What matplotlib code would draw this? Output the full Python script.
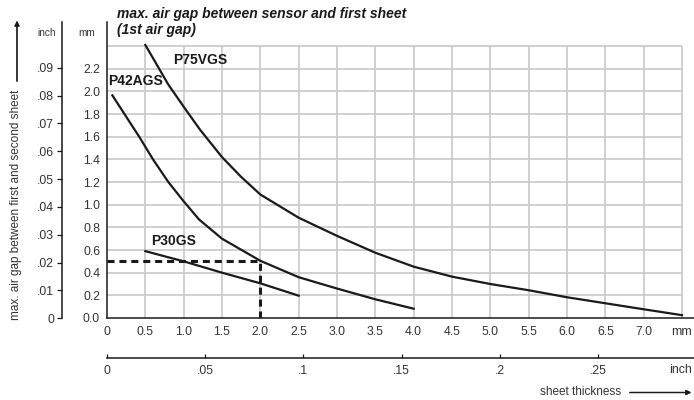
import matplotlib
matplotlib.use('Agg')
import matplotlib.pyplot as plt
from matplotlib.ticker import FixedLocator, FixedFormatter

plt.rcParams['font.family'] = ['Liberation Sans', 'DejaVu Sans']

# sheet thickness (mm) vs max. air gap between first and second sheet (mm)
p75vgs_x = [0.50, 0.80, 1.00, 1.21, 1.50, 1.75, 2.00, 2.50, 3.00, 3.50, 4.00, 4.50, 5.00, 5.50, 6.00, 6.50, 7.00, 7.50]
p75vgs_y = [2.41, 2.06, 1.865, 1.665, 1.42, 1.245, 1.09, 0.885, 0.725, 0.576, 0.453, 0.365, 0.300, 0.245, 0.183, 0.130, 0.077, 0.025]

p42ags_x = [0.07, 0.42, 0.60, 0.80, 1.00, 1.20, 1.50, 2.00, 2.50, 3.00, 3.50, 4.00]
p42ags_y = [1.965, 1.60, 1.40, 1.20, 1.03, 0.87, 0.70, 0.505, 0.36, 0.26, 0.165, 0.082]

p30gs_x = [0.50, 1.00, 1.50, 2.00, 2.50]
p30gs_y = [0.59, 0.50, 0.40, 0.306, 0.197]

# example reading (dashed)
mark_x = 2.0
mark_y = 0.5

mm_x_ticks = [0, 0.5, 1.0, 1.5, 2.0, 2.5, 3.0, 3.5, 4.0, 4.5, 5.0, 5.5, 6.0, 6.5, 7.0]
mm_x_labels = ['0', '0.5', '1.0', '1.5', '2.0', '2.5', '3.0', '3.5', '4.0', '4.5', '5.0', '5.5', '6.0', '6.5', '7.0']
mm_y_ticks = [0.0, 0.2, 0.4, 0.6, 0.8, 1.0, 1.2, 1.4, 1.6, 1.8, 2.0, 2.2]
grid_x = [0.5, 1.0, 1.5, 2.0, 2.5, 3.0, 3.5, 4.0, 4.5, 5.0, 5.5, 6.0, 6.5, 7.0, 7.5]
grid_y = [0.2, 0.4, 0.6, 0.8, 1.0, 1.2, 1.4, 1.6, 1.8, 2.0, 2.2, 2.4]

inch_y_ticks = [0, .01, .02, .03, .04, .05, .06, .07, .08, .09]
inch_y_labels = ['0', '.01', '.02', '.03', '.04', '.05', '.06', '.07', '.08', '.09']
inch_x_ticks = [0, .05, .1, .15, .2, .25]
inch_x_labels = ['0', '.05', '.1', '.15', '.2', '.25']

W, H = 694, 400
ink = '#1a1a1a'
txt = '#333333'
gridc = '#c8c8c8'

fig = plt.figure(figsize=(W / 100, H / 100), dpi=100)

def rect(x0, y_bottom, x1, y_top):
    # pixel box (y from top) -> figure fraction
    return [x0 / W, (H - y_bottom) / H, (x1 - x0) / W, (y_bottom - y_top) / H]

# main mm axes
ax = fig.add_axes(rect(107, 318, 694, 22))
ax.set_xlim(0, 587 / 76.67)
ax.set_ylim(0, 296 / 113.3)
for s in ('top', 'right'):
    ax.spines[s].set_visible(False)
for s in ('left', 'bottom'):
    ax.spines[s].set_color(ink)
    ax.spines[s].set_linewidth(1.1)

ax.vlines(grid_x, 0, grid_y[-1], color=gridc, lw=1.2, zorder=1)
ax.hlines(grid_y, 0, grid_x[-1], color=gridc, lw=1.2, zorder=1)

ax.xaxis.set_major_locator(FixedLocator(mm_x_ticks))
ax.xaxis.set_major_formatter(FixedFormatter(mm_x_labels))
ax.yaxis.set_major_locator(FixedLocator(mm_y_ticks))
ax.yaxis.set_major_formatter(FixedFormatter([f'{v:.1f}' for v in mm_y_ticks]))
ax.tick_params(length=0, labelsize=8.8, labelcolor=txt)
ax.tick_params(axis='x', pad=6)
ax.tick_params(axis='y', pad=5)

ax.plot(p75vgs_x, p75vgs_y, color=ink, lw=1.6, zorder=3)
ax.plot(p42ags_x, p42ags_y, color=ink, lw=1.6, zorder=3)
ax.plot(p30gs_x, p30gs_y, color=ink, lw=1.6, zorder=3)

ax.plot([0, mark_x], [mark_y, mark_y], color=ink, lw=2.2, dashes=(2.3, 1.6), zorder=4)
ax.plot([mark_x, mark_x], [0, mark_y], color=ink, lw=2.2, dashes=(2.3, 1.6), zorder=4)

lbl = dict(fontsize=10, fontweight='bold', color=ink, va='center', ha='left', zorder=5)
ax.text(0.86, 2.277, 'P75VGS', **lbl)
ax.text(0.013, 2.09, 'P42AGS', **lbl)
ax.text(0.574, 0.68, 'P30GS', **lbl)

# inch scale, left
axi = fig.add_axes(rect(62, 318.3, 62.5, 22))
axi.set_ylim(0, 296.3 / 2784)
axi.set_xticks([])
for s in ('top', 'right', 'bottom'):
    axi.spines[s].set_visible(False)
axi.spines['left'].set_color(ink)
axi.spines['left'].set_linewidth(1.1)
axi.patch.set_visible(False)
axi.yaxis.set_major_locator(FixedLocator(inch_y_ticks))
axi.yaxis.set_major_formatter(FixedFormatter(inch_y_labels))
axi.tick_params(axis='y', direction='out', length=3.5, width=0.9, color=ink,
                labelsize=8.8, labelcolor=txt, pad=2)

# inch scale, bottom
axb = fig.add_axes(rect(107, 358.3, 694, 357.8))
axb.set_xlim(0, 587 / 1964)
axb.set_yticks([])
for s in ('top', 'right', 'left'):
    axb.spines[s].set_visible(False)
axb.spines['bottom'].set_color(ink)
axb.spines['bottom'].set_linewidth(1.1)
axb.patch.set_visible(False)
axb.xaxis.set_major_locator(FixedLocator(inch_x_ticks))
axb.xaxis.set_major_formatter(FixedFormatter(inch_x_labels))
axb.tick_params(axis='x', direction='in', length=3, width=0.9, color=ink,
                labelsize=8.8, labelcolor=txt, pad=5)

# unit labels and titles
def ftext(px, py, s, **kw):
    fig.text(px / W, 1 - py / H, s, **kw)

ftext(47, 33, 'inch', fontsize=7.2, color=txt, ha='center', va='center')
ftext(87, 33, 'mm', fontsize=7.2, color=txt, ha='center', va='center')
ftext(692, 332, 'mm', fontsize=8.8, color=txt, ha='right', va='center')
ftext(692, 370, 'inch', fontsize=8.8, color=txt, ha='right', va='center')

ftext(117, 7, 'max. air gap between sensor and first sheet\n(1st air gap)',
      fontsize=10, fontweight='bold', fontstyle='italic', color=ink,
      ha='left', va='top', linespacing=1.15)

ftext(16, 320, 'max. air gap between first and second sheet', fontsize=8.5,
      color=txt, rotation=90, ha='center', va='bottom')
fig.add_artist(plt.annotate('', xy=(17 / W, 1 - 18 / H), xytext=(17 / W, 1 - 84 / H),
                            xycoords='figure fraction', textcoords='figure fraction',
                            arrowprops=dict(arrowstyle='-|>', color=ink, lw=0.9,
                                            mutation_scale=7)))

ftext(581, 392, 'sheet thickness', fontsize=8.5, color=txt, ha='center', va='center')
fig.add_artist(plt.annotate('', xy=(694 / W, 1 - 392.5 / H), xytext=(627 / W, 1 - 392.5 / H),
                            xycoords='figure fraction', textcoords='figure fraction',
                            arrowprops=dict(arrowstyle='-|>', color=ink, lw=0.9,
                                            mutation_scale=7)))

fig.savefig('out.png', dpi=100)
